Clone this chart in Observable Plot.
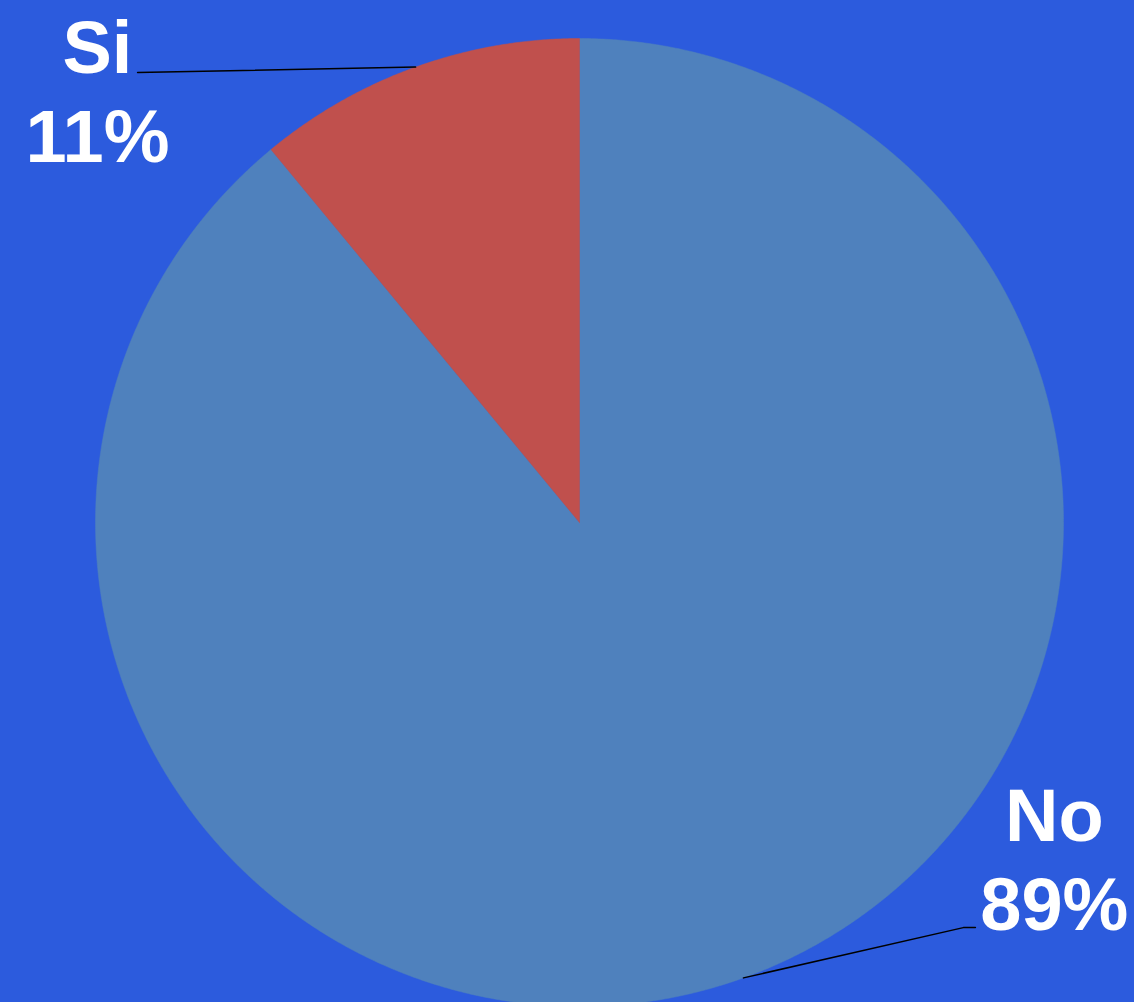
<!DOCTYPE html>
<html>
<head>
<meta charset="utf-8">
<script src="https://cdn.jsdelivr.net/npm/d3@7"></script>
<script src="https://cdn.jsdelivr.net/npm/@observablehq/plot@0.6"></script>
<style>
  html, body { margin: 0; padding: 0; background: #2c5bdd; }
  #chart svg { display: block; }
</style>
</head>
<body>
<div id="chart"></div>
<script>
// ---- data ----
const categories = ["No", "Si"];
const shares = [89, 11];
const sliceColors = ["#4f81bd", "#c0504d"];

// ---- layout (unit-circle coordinates for labels) ----
const labelLayout = {
  No: { elbow: [0.793, -0.837], end: [0.818, -0.837], text: [0.981, -0.691] },
  Si: { elbow: [-0.913, 0.930], end: [-0.913, 0.930], text: [-0.996, 0.895] }
};

const W = 1134, H = 1002;
const cx = 579, cy = 522, R = 484;

const pieData = d3.pie().sort(null).value(d => d.share)(
  categories.map((c, i) => ({ category: c, share: shares[i] }))
);

// slice polygons
const slicePts = [];
for (const s of pieData) {
  const c = s.data.category;
  slicePts.push({ category: c, x: 0, y: 0 });
  const n = Math.max(4, Math.ceil((s.endAngle - s.startAngle) / 0.005));
  for (let k = 0; k <= n; k++) {
    const a = s.startAngle + (s.endAngle - s.startAngle) * k / n;
    slicePts.push({ category: c, x: Math.sin(a), y: Math.cos(a) });
  }
  slicePts.push({ category: c, x: 0, y: 0 });
}

// leader lines
const leaderPts = [];
const labels = [];
for (const s of pieData) {
  const c = s.data.category;
  const mid = (s.startAngle + s.endAngle) / 2;
  const L = labelLayout[c];
  leaderPts.push({ category: c, x: Math.sin(mid), y: Math.cos(mid) });
  leaderPts.push({ category: c, x: L.elbow[0], y: L.elbow[1] });
  leaderPts.push({ category: c, x: L.end[0], y: L.end[1] });
  labels.push({ x: L.text[0], y: L.text[1], label: `${c}\n${Math.round(s.data.share)}%` });
}

const chart = Plot.plot({
  width: W,
  height: H,
  margin: 0,
  style: { background: "#2c5bdd", overflow: "visible" },
  x: { domain: [-1, 1], range: [cx - R, cx + R], axis: null },
  y: { domain: [1, -1], range: [cy - R, cy + R], axis: null },
  color: { domain: categories, range: sliceColors },
  marks: [
    Plot.line(slicePts, { x: "x", y: "y", z: "category", fill: "category", stroke: "category", strokeWidth: 0.5, curve: "linear" }),
    Plot.line(leaderPts, { x: "x", y: "y", z: "category", stroke: "#000", strokeWidth: 1.5, curve: "linear" }),
    Plot.text(labels, {
      x: "x", y: "y", text: "label",
      fill: "white", fontSize: 74, fontWeight: "bold",
      fontFamily: "'Liberation Sans', Arial, Helvetica, sans-serif",
      lineHeight: 1.2, textAnchor: "middle", lineAnchor: "middle"
    })
  ]
});
document.getElementById("chart").append(chart);
</script>
</body>
</html>
